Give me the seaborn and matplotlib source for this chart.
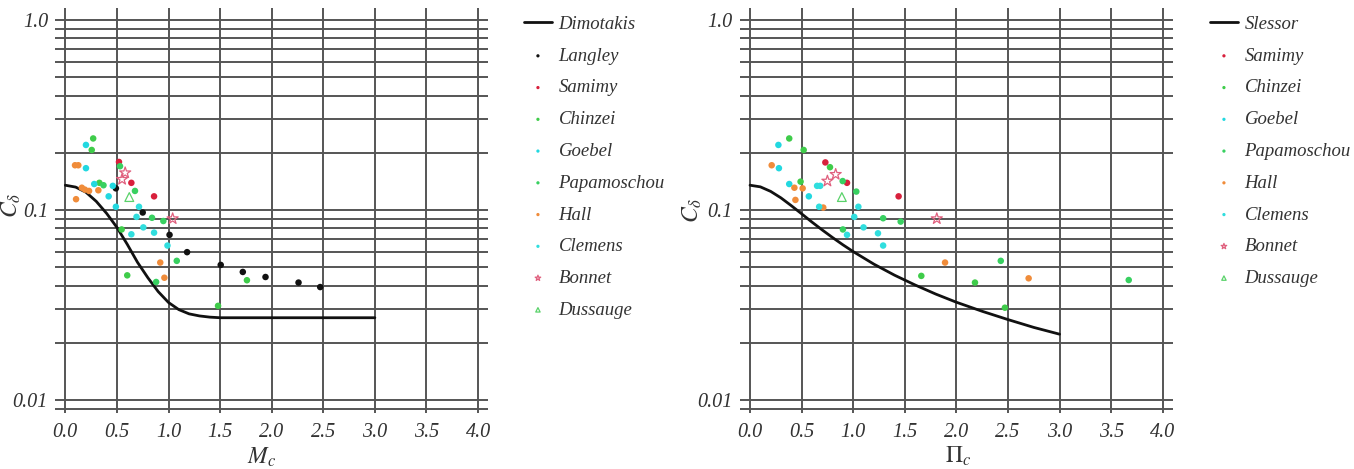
import numpy as np
import pandas as pd
import matplotlib
matplotlib.use("Agg")
import matplotlib.pyplot as plt
import seaborn as sns

sns.set_style("white")
plt.rcParams["font.family"] = ["Liberation Serif", "DejaVu Serif"]
plt.rcParams["mathtext.fontset"] = "stix"

# ---- curves ----
dim_x = [0.0, 0.1, 0.2, 0.3, 0.4, 0.5, 0.6, 0.7, 0.8, 0.9, 1.0, 1.1, 1.2, 1.3, 1.4, 1.5, 2.0, 2.5, 3.0]
dim_y = [0.135, 0.132, 0.124, 0.111, 0.096, 0.081, 0.066, 0.053, 0.044, 0.0372, 0.0326, 0.0299,
         0.0284, 0.0277, 0.0273, 0.0271, 0.0271, 0.0271, 0.0271]

sle_x = [0.0, 0.1, 0.2, 0.3, 0.4, 0.5, 0.6, 0.7, 0.8, 0.9, 1.0, 1.2, 1.4, 1.6, 1.8, 2.0, 2.25, 2.5, 2.75, 3.0]
sle_y = [0.135, 0.1324, 0.1253, 0.1158, 0.1054, 0.0955, 0.0864, 0.0785, 0.0716, 0.0656, 0.0604,
         0.0519, 0.0454, 0.0403, 0.0361, 0.0327, 0.0293, 0.0265, 0.0241, 0.0222]

# ---- left panel: C_delta vs M_c ----
langley_m = [0.49, 0.75, 1.01, 1.18, 1.506, 1.72, 1.94, 2.26, 2.47]
langley_c = [0.130, 0.097, 0.074, 0.060, 0.0514, 0.0472, 0.0444, 0.0415, 0.0393]
samimy_m = [0.52, 0.64, 0.86]
samimy_c = [0.179, 0.139, 0.118]
chinzei_m = [0.27, 0.256, 0.33, 0.546, 0.60, 1.48, 1.76]
chinzei_c = [0.238, 0.207, 0.139, 0.079, 0.0453, 0.0313, 0.0427]
goebel_m = [0.20, 0.20, 0.28, 0.42, 0.46, 0.49]
goebel_c = [0.22, 0.166, 0.137, 0.118, 0.134, 0.104]
papa_m = [0.37, 0.675, 0.84, 0.95, 1.08, 0.88, 0.53]
papa_c = [0.135, 0.126, 0.091, 0.0875, 0.054, 0.0418, 0.170]
hall_m = [0.094, 0.126, 0.16, 0.19, 0.23, 0.32, 0.104, 0.92, 0.96]
hall_c = [0.172, 0.172, 0.131, 0.128, 0.126, 0.127, 0.114, 0.0529, 0.044]
clemens_m = [0.714, 0.69, 0.756, 0.64, 0.86, 0.99]
clemens_c = [0.104, 0.092, 0.081, 0.0745, 0.076, 0.065]
bonnet_m = [0.58, 0.55, 1.04]
bonnet_c = [0.157, 0.145, 0.090]
dussauge_m = [0.62]
dussauge_c = [0.117]

# ---- right panel: C_delta vs Pi_c ----
samimy_p = [0.73, 0.94, 1.44]
samimy_pc = [0.178, 0.139, 0.118]
chinzei_p = [0.38, 0.52, 0.775, 0.49, 1.66, 2.18, 2.47]
chinzei_pc = [0.238, 0.207, 0.168, 0.141, 0.045, 0.0415, 0.0306]
goebel_p = [0.275, 0.28, 0.38, 0.57]
goebel_pc = [0.22, 0.166, 0.137, 0.118]
papa_p = [0.898, 1.03, 1.29, 1.46, 0.90, 2.43, 3.67]
papa_pc = [0.142, 0.125, 0.0905, 0.0869, 0.079, 0.054, 0.0428]
hall_p = [0.21, 0.43, 0.51, 0.44, 0.71, 1.89, 2.70]
hall_pc = [0.172, 0.131, 0.130, 0.113, 0.103, 0.0529, 0.0437]
clemens_p = [0.65, 0.68, 0.67, 1.05, 1.01, 0.94, 1.10, 1.24, 1.29]
clemens_pc = [0.134, 0.134, 0.104, 0.104, 0.092, 0.074, 0.081, 0.0754, 0.065]
bonnet_p = [0.83, 0.75, 1.81]
bonnet_pc = [0.154, 0.142, 0.090]
dussauge_p = [0.89]
dussauge_pc = [0.117]

colors = {
    "Langley": "#111111", "Samimy": "#d8203c", "Chinzei": "#3fcc4a", "Goebel": "#22d8e0",
    "Papamoschou": "#38d060", "Hall": "#f08c3a", "Clemens": "#30dede",
    "Bonnet": "#e0607e", "Dussauge": "#5ad26a",
}

left_sets = [("Langley", langley_m, langley_c), ("Samimy", samimy_m, samimy_c),
             ("Chinzei", chinzei_m, chinzei_c), ("Goebel", goebel_m, goebel_c),
             ("Papamoschou", papa_m, papa_c), ("Hall", hall_m, hall_c),
             ("Clemens", clemens_m, clemens_c), ("Bonnet", bonnet_m, bonnet_c),
             ("Dussauge", dussauge_m, dussauge_c)]
right_sets = [("Samimy", samimy_p, samimy_pc), ("Chinzei", chinzei_p, chinzei_pc),
              ("Goebel", goebel_p, goebel_pc), ("Papamoschou", papa_p, papa_pc),
              ("Hall", hall_p, hall_pc), ("Clemens", clemens_p, clemens_pc),
              ("Bonnet", bonnet_p, bonnet_pc), ("Dussauge", dussauge_p, dussauge_pc)]

W, H = 1354, 469
fig = plt.figure(figsize=(W / 100, H / 100), dpi=100)
ax_l = fig.add_axes([55 / W, 56 / H, 433.4 / W, 405 / H])
ax_r = fig.add_axes([739.7 / W, 56 / H, 433.4 / W, 405 / H])


def draw(ax, cx, cy, cname, sets):
    sns.lineplot(x=cx, y=cy, ax=ax, color="#111111", linewidth=2, label=cname, zorder=3)
    for name, xs, ys in sets:
        c = colors[name]
        if name == "Bonnet":
            sns.scatterplot(x=xs, y=ys, ax=ax, marker="*", s=70, facecolor="none",
                            edgecolor=c, linewidth=0.9, label=name, zorder=4)
        elif name == "Dussauge":
            sns.scatterplot(x=xs, y=ys, ax=ax, marker="^", s=40, facecolor="none",
                            edgecolor=c, linewidth=0.9, label=name, zorder=4)
        else:
            sns.scatterplot(x=xs, y=ys, ax=ax, marker="o", s=22, color=c,
                            edgecolor="none", label=name, zorder=4)
    ax.set_yscale("log")
    ax.set_xlim(-0.1, 4.1)
    ax.set_ylim(10 ** (-2 - 13 / 190), 10 ** (12 / 190))
    ax.set_xticks(np.arange(0, 4.01, 0.5))
    ax.set_xticklabels([f"{v:.1f}" for v in np.arange(0, 4.01, 0.5)])
    ax.set_yticks([0.01, 0.1, 1.0])
    ax.set_yticklabels(["0.01", "0.1", "1.0"])
    ax.yaxis.set_minor_locator(matplotlib.ticker.LogLocator(base=10, subs=np.arange(2, 10)))
    ax.yaxis.set_minor_formatter(matplotlib.ticker.NullFormatter())
    ax.grid(True, which="major", axis="both", color="#555555", linewidth=1.4)
    ax.grid(True, which="minor", axis="y", color="#555555", linewidth=1.4)
    ax.set_axisbelow(True)
    for s in ax.spines.values():
        s.set_visible(False)
    ax.tick_params(which="both", length=0, labelsize=14.5, colors="#333333")
    ax.tick_params(axis="x", pad=7)
    ax.tick_params(axis="y", pad=5)
    for lab in ax.get_xticklabels() + ax.get_yticklabels():
        lab.set_style("italic")
    ax.set_xlabel("")
    ax.set_ylabel("")


draw(ax_l, dim_x, dim_y, "Dimotakis", left_sets)
draw(ax_r, sle_x, sle_y, "Slessor", right_sets)

for ax, x0 in [(ax_l, 507), (ax_r, 1193)]:
    leg = ax.legend(loc="upper left", bbox_to_anchor=(x0 / W, 1 + 1 / H),
                    bbox_transform=fig.transFigure, frameon=False,
                    fontsize=13.5, labelspacing=0.78, handlelength=1.5,
                    handletextpad=0.35, markerscale=0.5)
    for t in leg.get_texts():
        t.set_style("italic")
        t.set_color("#333333")

fig.text(0 / W, 1 - 205 / H, r"$C_\delta$", rotation=90, fontsize=17, va="center", ha="left", color="#333333")
fig.text(681 / W, 1 - 210 / H, r"$C_\delta$", rotation=90, fontsize=17, va="center", ha="left", color="#333333")
fig.text(262 / W, 1 - 446 / H, r"$M_c$", fontsize=17, va="top", ha="center", color="#333333")
fig.text(958 / W, 1 - 445 / H, r"$\Pi_c$", fontsize=17, va="top", ha="center", color="#333333")

fig.savefig("out.png", dpi=100, facecolor="white")
